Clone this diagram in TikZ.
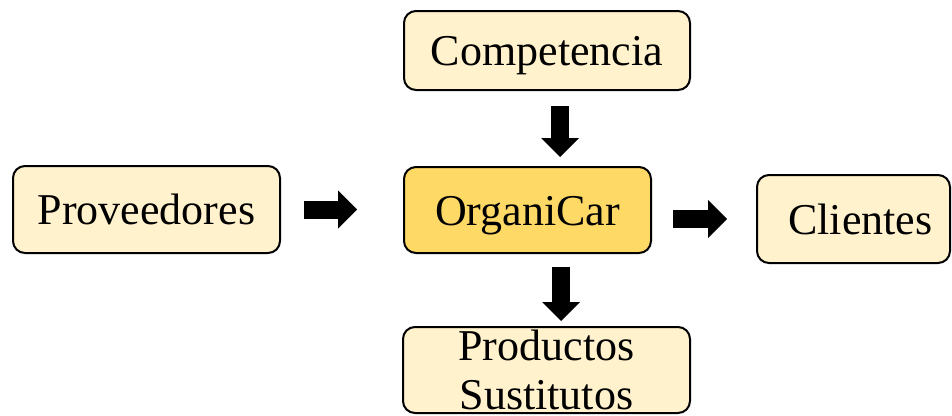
\documentclass[tikz,border=0pt]{standalone}
\usepackage{fontspec}
\setmainfont{Liberation Serif}
\usetikzlibrary{arrows.meta}
\definecolor{boxlight}{HTML}{FFF2CC}
\definecolor{boxgold}{HTML}{FFD966}
\tikzset{
  forcebox/.style={draw=black, line width=2pt, rounded corners=12pt, fill=boxlight,
    inner sep=0pt, font=\fontsize{44pt}{49pt}\selectfont, align=center},
  oneline/.style={text height=30pt, text depth=0pt},
  blockarrow/.style={line width=18pt, line cap=butt,
    -{Triangle[width=38pt,length=19pt,line width=0pt]}}
}
\begin{document}
\begin{tikzpicture}[x=1pt,y=-1pt]
\clip (0,0) rectangle (952,415);
\fill[white] (0,0) rectangle (952,415);
\node[forcebox, oneline, minimum width=286pt, minimum height=79pt] (comp) at (547,50.5) {Competencia};
\node[forcebox, oneline, minimum width=267pt, minimum height=87pt] (prov) at (146.5,209.5) {Proveedores};
\node[forcebox, oneline, fill=boxgold, minimum width=247pt, minimum height=86pt] (org) at (527.5,210) {OrganiCar};
\node[forcebox, oneline, minimum width=193pt, minimum height=88pt] (cli) at (853.5,219) {\hspace*{14pt}Clientes};
\node[forcebox, minimum width=287pt, minimum height=86pt] (prod) at (546.5,370) {Productos\\Sustitutos};
\draw[blockarrow, shorten <=23pt, shorten >=46pt] (prov.east) -- (prov.east -| org.west);
\draw[blockarrow, shorten <=21pt, shorten >=29pt] (org.east |- cli.west) -- (cli.west);
\draw[blockarrow, shorten <=15pt, shorten >=9pt] ([xshift=13pt]comp.south) -- ([xshift=13pt]comp.south |- org.north);
\draw[blockarrow, shorten <=13pt, shorten >=5pt] ([xshift=33.5pt]org.south) -- ([xshift=33.5pt]org.south |- prod.north);
\end{tikzpicture}
\end{document}
